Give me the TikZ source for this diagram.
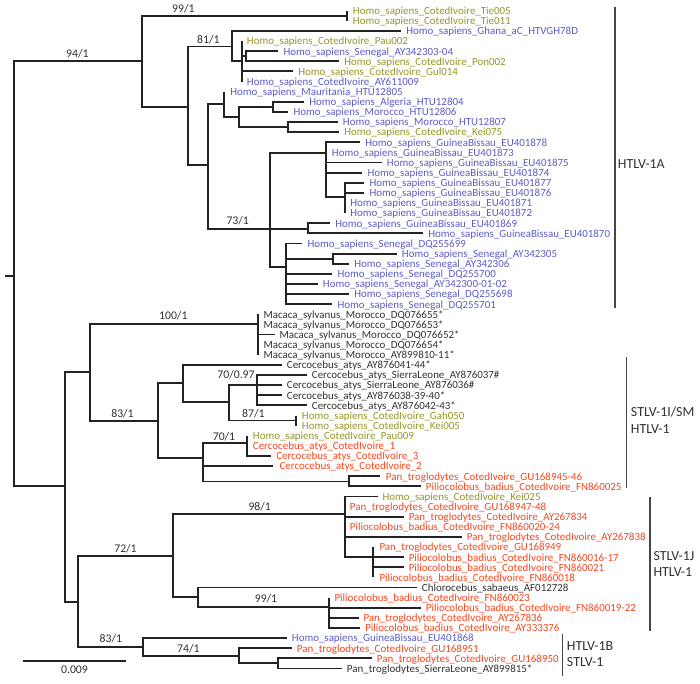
\documentclass[tikz,border=0pt]{standalone}
\usepackage{fontspec}
\setmainfont{Carlito}
\definecolor{ol}{RGB}{150,150,40}
\definecolor{bl}{RGB}{92,92,200}
\definecolor{rd}{RGB}{250,70,30}
\definecolor{bk}{RGB}{50,50,50}
\definecolor{treec}{RGB}{35,35,35}
\definecolor{barc}{RGB}{70,70,70}
\def\ry#1{(10.7+10.12*(#1))}
\newcommand\tleaf[6]{%
  \coordinate (e#1) at (#3,{\ry{#1}});
  \draw[br] (#2) |- (e#1);
  \node[lt,#5] (t#1) at (#4,{\ry{#1}}) {#6};}
\newcommand\tnode[4]{%
  \coordinate (#1) at (#3,#4);
  \draw[br] (#2) |- (#1);}
\tikzset{
  br/.style={line width=1.4pt, draw=treec},
  lt/.style={anchor=mid west, inner sep=0pt, yshift=-0.5pt, font=\fontsize{8.2}{9}\selectfont},
  bs/.style={inner sep=0pt, text=bk, font=\fontsize{8.8}{10}\selectfont},
  cb/.style={line width=1pt, draw=barc},
  cl/.style={anchor=mid west, inner sep=0pt, text=bk, font=\fontsize{10.4}{12}\selectfont}
}
\begin{document}
\begin{tikzpicture}[x=0.75pt,y=-0.75pt]
\fill[white] (0,0) rectangle (700,684);
\useasboundingbox (0,0) rectangle (700,684);
% root
\coordinate (r0) at (5,276);
\coordinate (r) at (14,276);
\draw[br] (r0) -- (r);
\tnode{nA}{r}{141.7}{61}
\tnode{nQ}{r}{65}{485.7}
% HTLV-1A clade
\tnode{nTie}{nA}{346.7}{15.7}
\tleaf{0}{nTie}{346.7}{352.7}{ol}{Homo\_sapiens\_CotedIvoire\_Tie005}
\tleaf{1}{nTie}{346.7}{352.7}{ol}{Homo\_sapiens\_CotedIvoire\_Tie011}
\tnode{nB}{nA}{188.3}{106.7}
\tnode{nC}{nB}{232.3}{46.5}
\tleaf{2}{nC}{401}{406}{bl}{Homo\_sapiens\_Ghana\_aC\_HTVGH78D}
\tnode{nD}{nC}{241.7}{61.3}
\tleaf{3}{nD}{241.7}{246.7}{ol}{Homo\_sapiens\_CotedIvoire\_Pau002}
\tnode{nE}{nD}{246}{56.3}
\tleaf{4}{nE}{278}{283.3}{bl}{Homo\_sapiens\_Senegal\_AY342303-04}
\tleaf{5}{nE}{339}{344}{ol}{Homo\_sapiens\_CotedIvoire\_Pon002}
\tleaf{6}{nD}{292.7}{298}{ol}{Homo\_sapiens\_CotedIvoire\_Gul014}
\tleaf{7}{nD}{241.7}{246.7}{bl}{Homo\_sapiens\_CotedIvoire\_AY611009}
\tnode{nF}{nB}{208}{165}
\tnode{nG}{nF}{224}{104.3}
\tleaf{8}{nG}{224}{230}{bl}{Homo\_sapiens\_Mauritania\_HTU12805}
\tnode{nH}{nG}{239.3}{117.3}
\tnode{nI}{nH}{272.7}{106.9}
\tleaf{9}{nI}{303.5}{309}{bl}{Homo\_sapiens\_Algeria\_HTU12804}
\tleaf{10}{nI}{288.3}{293.3}{bl}{Homo\_sapiens\_Morocco\_HTU12806}
\tnode{nJ}{nH}{288.3}{127}
\tleaf{11}{nJ}{337.7}{342.7}{bl}{Homo\_sapiens\_Morocco\_HTU12807}
\tleaf{12}{nJ}{339}{344}{ol}{Homo\_sapiens\_CotedIvoire\_Kei075}
\tnode{nK}{nF}{270}{229}
\tnode{nL}{nK}{326}{152.7}
\tleaf{13}{nL}{360}{365}{bl}{Homo\_sapiens\_GuineaBissau\_EU401878}
\tleaf{14}{nL}{326}{331.7}{bl}{Homo\_sapiens\_GuineaBissau\_EU401873}
\tleaf{15}{nL}{381.7}{386.7}{bl}{Homo\_sapiens\_GuineaBissau\_EU401875}
\tleaf{16}{nL}{362.3}{367.3}{bl}{Homo\_sapiens\_GuineaBissau\_EU401874}
\tnode{nM}{nL}{345}{197.3}
\tleaf{17}{nM}{364.3}{369.3}{bl}{Homo\_sapiens\_GuineaBissau\_EU401877}
\tleaf{18}{nM}{364.3}{369.3}{bl}{Homo\_sapiens\_GuineaBissau\_EU401876}
\tleaf{19}{nM}{345}{350}{bl}{Homo\_sapiens\_GuineaBissau\_EU401871}
\tleaf{20}{nM}{345}{350}{bl}{Homo\_sapiens\_GuineaBissau\_EU401872}
\tnode{nN}{nK}{308.3}{229}
\tleaf{21}{nN}{330}{335}{bl}{Homo\_sapiens\_GuineaBissau\_EU401869}
\tleaf{22}{nN}{423}{428}{bl}{Homo\_sapiens\_GuineaBissau\_EU401870}
\tnode{nO}{nK}{285.7}{266.7}
\tleaf{23}{nO}{302.3}{307.3}{bl}{Homo\_sapiens\_Senegal\_DQ255699}
\tnode{nP}{nO}{333.3}{258.6}
\tleaf{24}{nP}{396.7}{401.7}{bl}{Homo\_sapiens\_Senegal\_AY342305}
\tleaf{25}{nP}{349}{354}{bl}{Homo\_sapiens\_Senegal\_AY342306}
\tleaf{26}{nO}{332.3}{337.3}{bl}{Homo\_sapiens\_Senegal\_DQ255700}
\tleaf{27}{nO}{317.7}{322.7}{bl}{Homo\_sapiens\_Senegal\_AY342300-01-02}
\tleaf{28}{nO}{349}{354}{bl}{Homo\_sapiens\_Senegal\_DQ255698}
\tleaf{29}{nO}{332.3}{337.3}{bl}{Homo\_sapiens\_Senegal\_DQ255701}
% lower part
\tnode{nR}{nQ}{90}{372.3}
\tnode{nS}{nR}{258.3}{324}
\tleaf{30}{nS}{258.3}{263.3}{bk}{Macaca\_sylvanus\_Morocco\_DQ076655*}
\tleaf{31}{nS}{258.3}{263.3}{bk}{Macaca\_sylvanus\_Morocco\_DQ076653*}
\tleaf{32}{nS}{275}{279.3}{bk}{Macaca\_sylvanus\_Morocco\_DQ076652*}
\tleaf{33}{nS}{258.3}{263.3}{bk}{Macaca\_sylvanus\_Morocco\_DQ076654*}
\tleaf{34}{nS}{258.3}{263.3}{bk}{Macaca\_sylvanus\_Morocco\_AY899810-11*}
\tnode{nT}{nR}{158.3}{420.7}
\tnode{nU}{nT}{183.3}{383.3}
\tleaf{35}{nU}{281.7}{286.7}{bk}{Cercocebus\_atys\_AY876041-44*}
\tnode{nV}{nU}{229.3}{401.7}
\tnode{nW}{nV}{257.3}{385}
\tleaf{36}{nW}{306.7}{311.7}{bk}{Cercocebus\_atys\_SierraLeone\_AY876037\#}
\tleaf{37}{nW}{281.7}{286.7}{bk}{Cercocebus\_atys\_SierraLeone\_AY876036\#}
\tleaf{38}{nW}{281.7}{286.7}{bk}{Cercocebus\_atys\_AY876038-39-40*}
\tleaf{39}{nW}{306.7}{311.7}{bk}{Cercocebus\_atys\_AY876042-43*}
\tnode{nGa}{nV}{296}{420.5}
\tleaf{40}{nGa}{296}{301.7}{ol}{Homo\_sapiens\_CotedIvoire\_Gah050}
\tleaf{41}{nGa}{296}{301.7}{ol}{Homo\_sapiens\_CotedIvoire\_Kei005}
\tnode{nX}{nT}{203.3}{457.7}
\tnode{nY}{nX}{247.3}{442.7}
\tleaf{42}{nY}{247.3}{252.7}{ol}{Homo\_sapiens\_CotedIvoire\_Pau009}
\tleaf{43}{nY}{247.3}{252.7}{rd}{Cercocebus\_atys\_CotedIvoire\_1}
\tleaf{44}{nY}{270.5}{276}{rd}{Cercocebus\_atys\_CotedIvoire\_3}
\tleaf{45}{nX}{273.3}{279.3}{rd}{Cercocebus\_atys\_CotedIvoire\_2}
\tnode{nZ}{nX}{349.3}{481.5}
\tleaf{46}{nZ}{380}{385.7}{rd}{Pan\_troglodytes\_CotedIvoire\_GU168945-46}
\tleaf{47}{nZ}{420.5}{425.7}{rd}{Piliocolobus\_badius\_CotedIvoire\_FN860025}
\tnode{nAA}{nQ}{78.3}{601.7}
\tnode{nAB}{nAA}{173.3}{555.7}
\tnode{nAC}{nAB}{344.7}{514}
\tleaf{48}{nAC}{377.7}{382.3}{ol}{Homo\_sapiens\_CotedIvoire\_Kei025}
\tleaf{49}{nAC}{344.7}{349.7}{rd}{Pan\_troglodytes\_CotedIvoire\_GU168947-48}
\tleaf{50}{nAC}{403.5}{408.5}{rd}{Pan\_troglodytes\_CotedIvoire\_AY267834}
\tleaf{51}{nAC}{344.7}{349.7}{rd}{Piliocolobus\_badius\_CotedIvoire\_FN860020-24}
\tleaf{52}{nAC}{462}{466.7}{rd}{Pan\_troglodytes\_CotedIvoire\_AY267838}
\tnode{nAD}{nAC}{373.3}{557}
\tleaf{53}{nAD}{373.3}{379.3}{rd}{Pan\_troglodytes\_CotedIvoire\_GU168949}
\tleaf{54}{nAD}{403.5}{408.5}{rd}{Piliocolobus\_badius\_CotedIvoire\_FN860016-17}
\tleaf{55}{nAD}{403.5}{408.5}{rd}{Piliocolobus\_badius\_CotedIvoire\_FN860021}
\tleaf{56}{nAD}{373.3}{379.3}{rd}{Piliocolobus\_badius\_CotedIvoire\_FN860018}
\tnode{nAE}{nAB}{198.3}{597.3}
\tleaf{57}{nAE}{416.7}{421.7}{bk}{Chlorocebus\_sabaeus\_AF012728}
\tnode{nAF}{nAE}{329.3}{606.7}
\tleaf{58}{nAF}{329.3}{334.3}{rd}{Piliocolobus\_badius\_CotedIvoire\_FN860023}
\tleaf{59}{nAF}{421}{425.7}{rd}{Piliocolobus\_badius\_CotedIvoire\_FN860019-22}
\tleaf{60}{nAF}{358.5}{363.3}{rd}{Pan\_troglodytes\_CotedIvoire\_AY267836}
\tleaf{61}{nAF}{360}{365}{rd}{Piliocolobus\_badius\_CotedIvoire\_AY333376}
\tnode{nAG}{nAA}{143.3}{646.7}
\tleaf{62}{nAG}{286.7}{291.7}{bl}{Homo\_sapiens\_GuineaBissau\_EU401868}
\tnode{nAH}{nAG}{239.3}{655.7}
\tleaf{63}{nAH}{291.7}{296.7}{rd}{Pan\_troglodytes\_CotedIvoire\_GU168951}
\tnode{nAI}{nAH}{278.3}{663.3}
\tleaf{64}{nAI}{371.7}{376.7}{rd}{Pan\_troglodytes\_CotedIvoire\_GU168950}
\tleaf{65}{nAI}{341.7}{346.7}{bk}{Pan\_troglodytes\_SierraLeone\_AY899815*}
% bootstrap labels
\node[bs] (b1) at (77.3,53.3) {94/1};
\node[bs] (b2) at (183.3,9) {99/1};
\node[bs] (b3) at (208.3,39.3) {81/1};
\node[bs] (b4) at (237.7,221) {73/1};
\node[bs] (b5) at (173.3,316) {100/1};
\node[bs] (b6) at (122.5,414) {83/1};
\node[bs] (b7) at (236,375) {70/0.97};
\node[bs] (b8) at (253.3,413.7) {87/1};
\node[bs] (b9) at (224,436.7) {70/1};
\node[bs] (b10) at (259.7,506.7) {98/1};
\node[bs] (b11) at (125.5,548.3) {72/1};
\node[bs] (b12) at (266,599) {99/1};
\node[bs] (b13) at (110.8,639) {83/1};
\node[bs] (b14) at (188.3,649) {74/1};
% scale bar
\coordinate (s1) at (22.7,660.7);
\coordinate (s2) at (126,660.7);
\draw[br] (s1) -- (s2);
\node[bs] (sl) at (74.5,670) {0.009};
% clade bars
\coordinate (ca1) at (615,7.3); \coordinate (ca2) at (615,308.3);
\draw[cb] (ca1) -- (ca2);
\node[cl] (la) at (617.7,165.7) {HTLV-1A};
\coordinate (cb1) at (626.7,356.7); \coordinate (cb2) at (626.7,488.3);
\draw[cb] (cb1) -- (cb2);
\node[cl] (lb1) at (630.7,413.3) {STLV-1I/SM};
\node[cl] (lb2) at (630.7,430) {HTLV-1};
\coordinate (cc1) at (650,496.7); \coordinate (cc2) at (650,630.7);
\draw[cb] (cc1) -- (cc2);
\node[cl] (lc1) at (653.3,557.3) {STLV-1J};
\node[cl] (lc2) at (653.3,573.3) {HTLV-1};
\coordinate (cd1) at (562.7,634); \coordinate (cd2) at (562.7,676);
\draw[cb] (cd1) -- (cd2);
\node[cl] (ld1) at (566.7,647.3) {HTLV-1B};
\node[cl] (ld2) at (566.7,663.3) {STLV-1};
\end{tikzpicture}
\end{document}
